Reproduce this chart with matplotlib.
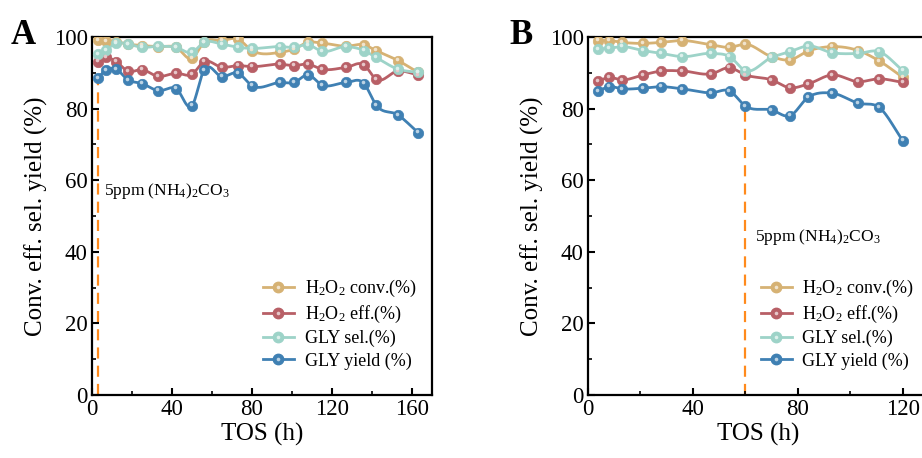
import numpy as np
import matplotlib
matplotlib.use("Agg")
import matplotlib.pyplot as plt
from matplotlib.lines import Line2D
from matplotlib.legend_handler import HandlerTuple
from matplotlib.ticker import MultipleLocator
import matplotlib.transforms as mtransforms

plt.rcParams['font.family'] = ['Liberation Serif', 'DejaVu Serif']
plt.rcParams['mathtext.fontset'] = 'custom'
plt.rcParams['mathtext.rm'] = 'Liberation Serif'
plt.rcParams['mathtext.it'] = 'Liberation Serif:italic'
plt.rcParams['mathtext.bf'] = 'Liberation Serif:bold'

# ---------------- data ----------------
series_labels = [r'H$_2$O$_2$ conv.(%)', r'H$_2$O$_2$ eff.(%)', 'GLY sel.(%)', 'GLY yield (%)']
series_colors = ['#D6B274', '#B85F66', '#9DD3C8', '#3F80B3']

time_A = [3, 7, 12, 18, 25, 33, 42, 50, 56, 65, 73, 80, 94, 101, 108, 115, 127, 136, 142, 153, 163]
conv_A = [99.2, 98.8, 98.6, 98.0, 97.6, 97.3, 97.1, 94.0, 98.5, 99.0, 99.4, 96.2, 95.7, 96.6, 98.5, 98.3, 97.4, 97.8, 96.2, 93.4, 90.1]
eff_A = [93.1, 94.3, 93.1, 90.4, 90.9, 89.0, 89.9, 89.6, 93.1, 91.5, 92.0, 91.7, 92.4, 92.0, 92.4, 91.0, 91.5, 92.2, 88.2, 90.5, 89.4]
sel_A = [95.2, 96.4, 98.3, 98.0, 97.1, 97.4, 97.1, 95.7, 98.5, 98.0, 97.1, 96.8, 97.3, 97.1, 97.8, 96.0, 97.3, 96.2, 94.3, 91.0, 90.1]
yield_A = [88.5, 90.8, 91.0, 88.0, 87.0, 85.0, 85.6, 80.8, 90.8, 88.9, 89.9, 86.4, 87.3, 87.3, 89.4, 86.6, 87.3, 87.0, 81.0, 78.2, 73.3]

time_B = [4, 8, 13, 21, 28, 36, 47, 54, 60, 70, 77, 84, 93, 103, 111, 120]
conv_B = [99.0, 99.0, 98.5, 98.2, 98.5, 99.0, 97.8, 97.1, 98.0, 94.5, 93.6, 96.1, 97.3, 96.2, 93.3, 88.7]
eff_B = [87.7, 88.7, 88.0, 89.4, 90.5, 90.5, 89.7, 91.4, 89.4, 88.0, 85.8, 86.9, 89.4, 87.5, 88.3, 87.3]
sel_B = [96.6, 96.8, 97.3, 96.2, 95.4, 94.5, 95.4, 94.5, 90.6, 94.3, 95.9, 97.5, 95.6, 95.4, 95.9, 90.6]
yield_B = [84.9, 86.1, 85.5, 85.7, 86.1, 85.5, 84.4, 84.9, 80.7, 79.6, 78.0, 83.2, 84.3, 81.5, 80.3, 71.0]

# ammonium carbonate addition marker (time, top of dashed line)
add_time_A, add_top_A = 3, 88.0
add_time_B, add_top_B = 60, 80.5
note_text = r'5ppm (NH$_4$)$_2$CO$_3$'
note_pos_A = (6, 57)
note_pos_B = (63.5, 44)


def smooth(x, y, n=25):
    x = np.asarray(x, float)
    y = np.asarray(y, float)
    m = np.gradient(y, x)
    xs, ys = [], []
    for i in range(len(x) - 1):
        t = np.linspace(0, 1, n, endpoint=False)
        h = x[i + 1] - x[i]
        h00 = 2 * t**3 - 3 * t**2 + 1
        h10 = t**3 - 2 * t**2 + t
        h01 = -2 * t**3 + 3 * t**2
        h11 = t**3 - t**2
        xs.append(x[i] + t * h)
        ys.append(h00 * y[i] + h10 * h * m[i] + h01 * y[i + 1] + h11 * h * m[i + 1])
    xs.append([x[-1]])
    ys.append([y[-1]])
    return np.concatenate(xs), np.concatenate(ys)


def lighten(c, f=0.6):
    rgb = np.array(matplotlib.colors.to_rgb(c))
    return tuple(rgb + (1 - rgb) * f)


fig = plt.figure(figsize=(9.22, 4.58), dpi=100)
axA = fig.add_axes([0.0998, 0.1376, 0.3688, 0.7817])
axB = fig.add_axes([0.6377, 0.1376, 0.3700, 0.7817])

panels = [
    (axA, time_A, [conv_A, eff_A, sel_A, yield_A], (1, 170), [0, 40, 80, 120, 160],
     add_time_A, add_top_A, note_pos_A, (0.466, 0.035)),
    (axB, time_B, [conv_B, eff_B, sel_B, yield_B], (0, 130), [0, 40, 80, 120],
     add_time_B, add_top_B, note_pos_B, (0.47, 0.035)),
]

for ax, t, ser, xlim, xticks, at, atop, npos, lpos in panels:
    handles = []
    hl_off = mtransforms.offset_copy(ax.transData, fig=fig, x=-1.3, y=1.3, units='dots')
    for vals, col, lab in zip(ser, series_colors, series_labels):
        xs, ys = smooth(t, vals)
        ax.plot(xs, ys, color=col, lw=2.0, zorder=2)
        ax.plot(t, vals, 'o', color=col, ms=7.5, mec=col, mew=0.5, zorder=3)
        ax.plot(t, vals, 'o', color=lighten(col, 0.65), ms=2.6, mew=0, zorder=4,
                transform=hl_off)
        h1 = Line2D([], [], color=col, lw=2.0, marker='o', ms=7.5, mec=col)
        h2 = Line2D([], [], ls='none', marker='o', color=lighten(col, 0.65), ms=2.6, mew=0)
        handles.append((h1, h2))
    ax.plot([at, at], [0, atop], color='#FF8A1C', lw=1.6, ls=(0, (5, 3.2)), zorder=1)
    ax.text(npos[0], npos[1], note_text, fontsize=12.5, ha='left', va='center')

    ax.set_xlim(*xlim)
    ax.set_ylim(0, 100)
    ax.set_xticks(xticks)
    ax.set_yticks([0, 20, 40, 60, 80, 100])
    ax.xaxis.set_minor_locator(MultipleLocator(20))
    ax.yaxis.set_minor_locator(MultipleLocator(10))
    ax.tick_params(which='major', direction='in', length=5, width=1.5, labelsize=16.5, pad=3,
                   top=False, right=False)
    ax.tick_params(which='minor', direction='in', length=3, width=1.2, top=False, right=False)
    for s in ax.spines.values():
        s.set_linewidth(1.6)
    ax.set_xlabel('TOS (h)', fontsize=18, labelpad=2)
    ax.set_ylabel('Conv. eff. sel. yield (%)', fontsize=18, labelpad=4)
    ax.legend(handles, series_labels, handler_map={tuple: HandlerTuple(ndivide=1)},
              loc='lower left', bbox_to_anchor=lpos, frameon=False, fontsize=13,
              handlelength=1.7, labelspacing=0.28, handletextpad=0.6, borderpad=0.2)

fig.text(0.011, 0.905, 'A', fontsize=25, fontweight='bold', ha='left', va='baseline')
fig.text(0.553, 0.905, 'B', fontsize=25, fontweight='bold', ha='left', va='baseline')

fig.savefig('out.png', dpi=100)
